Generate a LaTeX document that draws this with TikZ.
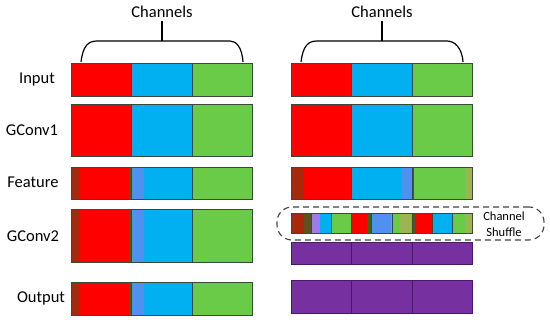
\documentclass[tikz,border=0pt]{standalone}
\usepackage{fontspec}
\setmainfont{Carlito}
\usetikzlibrary{positioning}

\definecolor{chred}{HTML}{FF0000}
\definecolor{chblue}{HTML}{00B0F0}
\definecolor{chgreen}{HTML}{6ACB48}
\definecolor{chpurple}{HTML}{7630A0}
\definecolor{dkred}{HTML}{A8280C}
\definecolor{dkgreen}{HTML}{2D6A1E}
\definecolor{dkolive}{HTML}{5A5220}
\definecolor{corn}{HTML}{5090F0}
\definecolor{olive}{HTML}{9DB550}
\definecolor{lav}{HTML}{9A7CF0}
\definecolor{edge}{HTML}{3A4A3A}
\definecolor{pedge}{HTML}{4A1868}

\begin{document}
\begin{tikzpicture}[
  x=1pt, y=-1pt,
  font=\fontsize{16.5}{19}\selectfont,
  seg/.style={
    draw=edge,
    line width=0.6pt,
    inner sep=0pt,
    outer sep=0pt,
    minimum width=60.5pt
  },
  first/.style={seg, anchor=north west},
  small/.style={minimum width=20.17pt},
  strips/.style n args={4}{
    path picture={
      \fill[#1] (path picture bounding box.north west)
        rectangle ([xshift=#2]path picture bounding box.south west);
      \fill[#3] (path picture bounding box.north east)
        rectangle ([xshift=-#4]path picture bounding box.south east);
    }
  },
  brace/.style={
    line width=1.2pt,
    draw=black
  },
  shuffle/.style={
    draw=black!75,
    dashed,
    dash pattern=on 6pt off 4pt,
    line width=1.1pt,
    rounded corners=15pt,
    inner sep=0pt
  }
]
\useasboundingbox (0,0) rectangle (550,320);

% Row labels
\node (lblin)  at (37,80)  {Input};
\node (lblg1)  at (32,130) {GConv1};
\node (lblft)  at (33,182) {Feature};
\node (lblg2)  at (33,236) {GConv2};
\node (lblout) at (41,298) {Output};

% Left column
\node[first,fill=chred,minimum height=33pt] (inL1) at (71,63) {};
\node[seg,fill=chblue,minimum height=33pt,right=0pt of inL1] (inL2) {};
\node[seg,fill=chgreen,minimum height=33pt,right=0pt of inL2] (inL3) {};

\node[first,fill=chred,minimum height=52pt] (gaL1) at (71,104) {};
\node[seg,fill=chblue,minimum height=52pt,right=0pt of gaL1] (gaL2) {};
\node[seg,fill=chgreen,minimum height=52pt,right=0pt of gaL2] (gaL3) {};

\node[first,fill=chred,minimum height=32pt,strips={dkred}{8pt}{dkgreen}{3pt}] (ftL1) at (71,167) {};
\node[seg,fill=chblue,minimum height=32pt,strips={corn}{12pt}{white}{0pt},right=0pt of ftL1] (ftL2) {};
\node[seg,fill=chgreen,minimum height=32pt,right=0pt of ftL2] (ftL3) {};

\node[first,fill=chred,minimum height=53pt,strips={dkred}{8pt}{dkgreen}{3pt}] (gbL1) at (71,209) {};
\node[seg,fill=chblue,minimum height=53pt,strips={corn}{12pt}{white}{0pt},right=0pt of gbL1] (gbL2) {};
\node[seg,fill=chgreen,minimum height=53pt,right=0pt of gbL2] (gbL3) {};

\node[first,fill=chred,minimum height=33pt,strips={dkred}{8pt}{dkgreen}{3pt}] (ouL1) at (71,282) {};
\node[seg,fill=chblue,minimum height=33pt,strips={corn}{12pt}{white}{0pt},right=0pt of ouL1] (ouL2) {};
\node[seg,fill=chgreen,minimum height=33pt,right=0pt of ouL2] (ouL3) {};

% Right column
\node[first,fill=chred,minimum height=33pt] (inR1) at (291,63) {};
\node[seg,fill=chblue,minimum height=33pt,right=0pt of inR1] (inR2) {};
\node[seg,fill=chgreen,minimum height=33pt,right=0pt of inR2] (inR3) {};

\node[first,fill=chred,minimum height=52pt] (gaR1) at (291,104) {};
\node[seg,fill=chblue,minimum height=52pt,right=0pt of gaR1] (gaR2) {};
\node[seg,fill=chgreen,minimum height=52pt,right=0pt of gaR2] (gaR3) {};

\node[first,fill=chred,minimum height=32pt,strips={dkred}{13pt}{white}{0pt}] (ftR1) at (291,167) {};
\node[seg,fill=chblue,minimum height=32pt,strips={white}{0pt}{corn}{10pt},right=0pt of ftR1] (ftR2) {};
\node[seg,fill=chgreen,minimum height=32pt,strips={dkgreen}{2pt}{olive}{8pt},right=0pt of ftR2] (ftR3) {};

% Channel shuffle
\node[shuffle,minimum width=267pt,minimum height=33pt] (shbox) at (410.5,223.5) {};
\node[first,small,fill=chred,minimum height=20pt,strips={dkred}{13pt}{dkolive}{7pt}] (sh1) at (291,213) {};
\node[seg,small,fill=chblue,minimum height=20pt,strips={lav}{9pt}{white}{0pt},right=0pt of sh1] (sh2) {};
\node[seg,small,fill=chgreen,minimum height=20pt,right=0pt of sh2] (sh3) {};
\node[seg,small,fill=chred,minimum height=20pt,strips={white}{0pt}{dkgreen}{5pt},right=0pt of sh3] (sh4) {};
\node[seg,small,fill=corn,minimum height=20pt,right=0pt of sh4] (sh5) {};
\node[seg,small,fill=chgreen,minimum height=20pt,strips={white}{0pt}{olive}{12pt},right=0pt of sh5] (sh6) {};
\node[seg,small,fill=chred,minimum height=20pt,strips={dkolive}{3pt}{white}{0pt},right=0pt of sh6] (sh7) {};
\node[seg,small,fill=chblue,minimum height=20pt,right=0pt of sh7] (sh8) {};
\node[seg,small,fill=chgreen,minimum height=20pt,strips={white}{0pt}{olive}{8pt},right=0pt of sh8] (sh9) {};
\node[font=\fontsize{12.5}{16}\selectfont,align=center] (shtxt) at (504,224) {Channel\\Shuffle};

\node[first,draw=pedge,fill=chpurple,minimum height=22pt] (gbR1) at (291,242) {};
\node[seg,draw=pedge,fill=chpurple,minimum height=22pt,right=0pt of gbR1] (gbR2) {};
\node[seg,draw=pedge,fill=chpurple,minimum height=22pt,right=0pt of gbR2] (gbR3) {};

\node[first,draw=pedge,fill=chpurple,minimum height=33pt] (ouR1) at (291,280) {};
\node[seg,draw=pedge,fill=chpurple,minimum height=33pt,right=0pt of ouR1] (ouR2) {};
\node[seg,draw=pedge,fill=chpurple,minimum height=33pt,right=0pt of ouR2] (ouR3) {};

% Channel braces
\node (chanL) at (162,12) {Channels};
\coordinate (braceL) at (162,41);
\draw[brace] (chanL) -- (braceL);
\draw[brace] (81,62) .. controls (83,46) and (88,41) .. (97,41)
  -- (230,41) .. controls (236,41) and (242,47) .. (243,62);

\node (chanR) at (382,12) {Channels};
\coordinate (braceR) at (382,41);
\draw[brace] (chanR) -- (braceR);
\draw[brace] (301,62) .. controls (303,46) and (308,41) .. (317,41)
  -- (447,41) .. controls (454,41) and (462,47) .. (463,62);

\end{tikzpicture}
\end{document}
